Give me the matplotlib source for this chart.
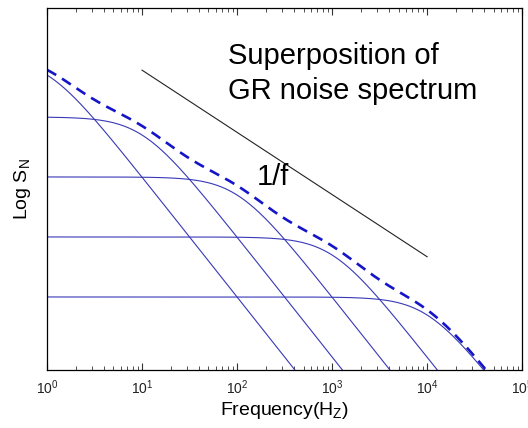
import matplotlib.pyplot as plt
import numpy as np

plt.rcParams['font.family'] = ['Liberation Sans', 'DejaVu Sans']
plt.rcParams['mathtext.fontset'] = 'custom'
plt.rcParams['mathtext.rm'] = 'Liberation Sans'
plt.rcParams['mathtext.it'] = 'Liberation Sans'

# Generation-recombination (Lorentzian) components: corner frequency and plateau level
corner_freq = [1, 10, 100, 1000, 10000]
plateau = [1.0, 0.1, 0.01, 0.001, 0.0001]

# Reference 1/f line endpoints
ref_f = [10, 1e4]
ref_s = [10 ** -0.22, 10 ** -3.33]

freq = np.logspace(0, 5, 600)

fig = plt.figure(figsize=(5.28, 4.28), dpi=100)
ax = fig.add_axes([0.089, 0.1355, 0.9, 0.846])

total = np.zeros_like(freq)
for fc, a in zip(corner_freq, plateau):
    s = a / (1 + (freq / fc) ** 2)
    total += s
    ax.plot(freq, s, color='#3838b8', lw=0.8)

ax.plot(freq, total, color='#1414c8', lw=1.9, dashes=(4, 2.6))
ax.plot(ref_f, ref_s, color='#222222', lw=0.8)

ax.set_xscale('log')
ax.set_yscale('log')
ax.set_xlim(1, 1e5)
ax.set_ylim(10 ** -5.217, 10 ** 0.817)

ax.text(80, 10 ** -0.117, 'Superposition of', fontsize=21, va='baseline')
ax.text(80, 10 ** -0.7, 'GR noise spectrum', fontsize=21, va='baseline')
ax.text(160, 10 ** -2.13, '1/f', fontsize=21, va='baseline')

ax.set_xlabel('Frequency(H$_Z$)', fontsize=14, labelpad=2)
ax.set_ylabel('Log S$_N$', fontsize=14, labelpad=10)

ax.tick_params(axis='x', which='both', direction='in', top=True, labelsize=10,
               pad=6, color='#333333', labelcolor='#222222')
ax.tick_params(axis='x', which='major', length=5)
ax.tick_params(axis='x', which='minor', length=3)
ax.tick_params(axis='y', which='both', left=False, labelleft=False)
ax.set_yticks([])
ax.minorticks_on()
ax.yaxis.set_minor_locator(plt.NullLocator())

for sp in ax.spines.values():
    sp.set_linewidth(0.9)

fig.savefig('out.png', dpi=100)
